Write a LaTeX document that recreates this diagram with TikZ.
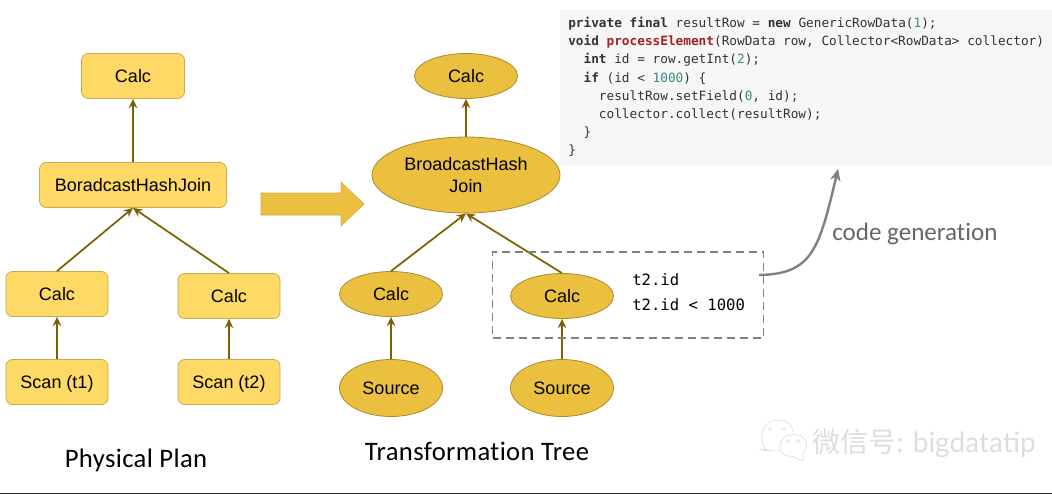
\documentclass[tikz,border=0pt]{standalone}
\usepackage{fontspec}
\setmainfont{Liberation Sans}
\newfontfamily\capfont[LetterSpace=1.4,Ligatures=NoCommon]{Carlito}
\newfontfamily\gencapfont[Ligatures=NoCommon]{Carlito}
\newfontfamily\codefont{DejaVu Sans Mono}
\newfontfamily\cjkfont{Noto Sans CJK SC}
\newfontfamily\latnmark{Lato}
\usetikzlibrary{arrows.meta,shapes.geometric}
\definecolor{boxfill}{HTML}{FFD966}
\definecolor{boxline}{HTML}{C9A94E}
\definecolor{ellfill}{HTML}{EBC03F}
\definecolor{ellline}{HTML}{A98A2C}
\definecolor{edge}{HTML}{7F6000}
\definecolor{codebg}{HTML}{F6F6F6}
\definecolor{codetxt}{HTML}{333333}
\definecolor{numcol}{HTML}{3B8C84}
\definecolor{fncol}{HTML}{A0221E}
\definecolor{markgray}{HTML}{DDDDDD}
\definecolor{calloutgray}{HTML}{808080}
\newcommand{\kw}[1]{{\bfseries #1}}
\newcommand{\nm}[1]{\textcolor{numcol}{#1}}
\tikzset{
  x=0.75pt,y=-0.75pt,
  plan/.style={draw=boxline,line width=0.6pt,fill=boxfill,rounded corners=5pt,minimum width=#1*0.75pt,minimum height=45*0.75pt,inner sep=0pt,font=\fontsize{13.5}{16}\selectfont,text=black,text height=9.8pt,text depth=0pt},
  tree/.style={draw=ellline,line width=0.6pt,fill=ellfill,ellipse,inner sep=0pt,font=\fontsize{13.5}{16}\selectfont,text=black,align=center},
  flow/.style={draw=edge,line width=1.3pt,-{Stealth[length=7pt,width=6.5pt,inset=2.5pt]}},
  captext/.style={font=\capfont\fontsize{20}{24}\selectfont,text=black,inner sep=0pt},
  codeline/.style={anchor=west,inner sep=0pt,font=\codefont\fontsize{9.56}{12}\selectfont,text=codetxt},
  filterline/.style={anchor=west,inner sep=0pt,font=\codefont\fontsize{11.7}{14}\selectfont,text=black}
}
\begin{document}
\begin{tikzpicture}
\useasboundingbox (0,0) rectangle (1052,494);
% rule along the bottom edge
\fill[black!85] (0,492.5) rectangle (1052,494);

% code listing
\fill[codebg] (560,10) rectangle (1052,165);
\node[codeline] (c1) at (568,24) {\kw{private final} resultRow = \kw{new} GenericRowData(\nm{1});};
\node[codeline] (c2) at (568,42) {\kw{void} \textcolor{fncol}{\kw{processElement}}(RowData row, Collector<RowData> collector)};
\node[codeline] (c3) at (568,60) {\ \ \kw{int} id = row.getInt(\nm{2});};
\node[codeline] (c4) at (568,78) {\ \ \kw{if} (id < \nm{1000}) \{};
\node[codeline] (c5) at (568,97) {\ \ \ \ resultRow.setField(\nm{0}, id);};
\node[codeline] (c6) at (568,115) {\ \ \ \ collector.collect(resultRow);};
\node[codeline] (c7) at (568,133) {\ \ \}};
\node[codeline] (c8) at (568,151) {\}};

% physical plan
\node[plan=103] (pTop) at (133,76) {Calc};
\node[plan=187] (pJoin) at (133,185) {BoradcastHashJoin};
\node[plan=102] (pL) at (57,294) {Calc};
\node[plan=102] (pR) at (229,296) {Calc};
\node[plan=102] (pSL) at (57,382) {Scan (t1)};
\node[plan=102] (pSR) at (229,382) {Scan (t2)};
\draw[flow] (pJoin.north) -- (pTop.south);
\draw[flow] (pL.north) -- (pJoin.south);
\draw[flow] (pR.north) -- (pJoin.south);
\draw[flow] (pSL.north) -- (pL.south);
\draw[flow] (pSR.north) -- (pR.south);

% transformation tree
\node[tree,minimum width=103*0.75pt,minimum height=45*0.75pt] (tTop) at (466,76) {Calc};
\node[tree,minimum width=188*0.75pt,minimum height=76*0.75pt] (tJoin) at (466,175) {BroadcastHash\\[1pt]Join};
\node[tree,minimum width=103*0.75pt,minimum height=45*0.75pt] (tL) at (391,294) {Calc};
\node[tree,minimum width=103*0.75pt,minimum height=45*0.75pt] (tR) at (562,296) {Calc};
\node[tree,minimum width=103*0.75pt,minimum height=57*0.75pt] (tSL) at (391,388) {Source};
\node[tree,minimum width=103*0.75pt,minimum height=57*0.75pt] (tSR) at (562,388) {Source};
\draw[flow] (tJoin.north) -- (tTop.south);
\draw[flow] (tL.north) -- (tJoin.south);
\draw[flow] (tR.north) -- (tJoin.south);
\draw[flow] (tSL.north) -- (tL.south);
\draw[flow] (tSR.north) -- (tR.south);

% transition between the two trees
\fill[fill=ellfill,draw=boxline,line width=0.4pt] (261,193) -- (341,193) -- (341,182) -- (364,204) -- (341,226) -- (341,215) -- (261,215) -- cycle;

% filter region and generated code callout
\node[draw=calloutgray,dash pattern=on 6pt off 3.75pt,line width=1.4pt,minimum width=271*0.75pt,minimum height=86*0.75pt,inner sep=0pt] (region) at (628,295) {};
\node[filterline] (f1) at (632,280) {t2.id};
\node[filterline] (f2) at (632,305) {t2.id < 1000};
\coordinate (calloutStart) at (759,275);
\coordinate (calloutEnd) at (838,169);
\draw[draw=calloutgray,line width=1.8pt,-{Stealth[length=9pt,width=8pt,inset=3pt]}] (calloutStart) .. controls (812,274) and (819,250) .. (calloutEnd);
\node[inner sep=0pt,font=\gencapfont\fontsize{18.8}{22}\selectfont,text=black!60,anchor=west] (gen) at (832,234) {code generation};

% captions
\node[captext] (capL) at (136,460) {Physical Plan};
\node[captext] (capR) at (477,451) {Transformation Tree};

% watermark
\begin{scope}[draw=markgray,line width=0.5pt,fill=white]
  \filldraw (759,449) -- (768,451) .. controls (758,446) and (759,420) .. (778,420) .. controls (796,420) and (797,440) .. (787,447) .. controls (780,452) and (775,452) .. (769,450) -- cycle;
  \filldraw (803,461) -- (791,456) .. controls (775,458) and (777,434) .. (792,435) .. controls (806,432) and (811,447) .. (803,453) -- cycle;
  \draw (770,429) circle (1.5) (784,429) circle (1.5) (788,441) circle (1.5) (798,441) circle (1.5);
\end{scope}
\node[anchor=west,inner sep=0pt,font=\fontsize{21}{25}\selectfont,text=markgray] (mark) at (812,443) {{\cjkfont 微信号}{\latnmark: bigdatatip}};
\end{tikzpicture}
\end{document}
